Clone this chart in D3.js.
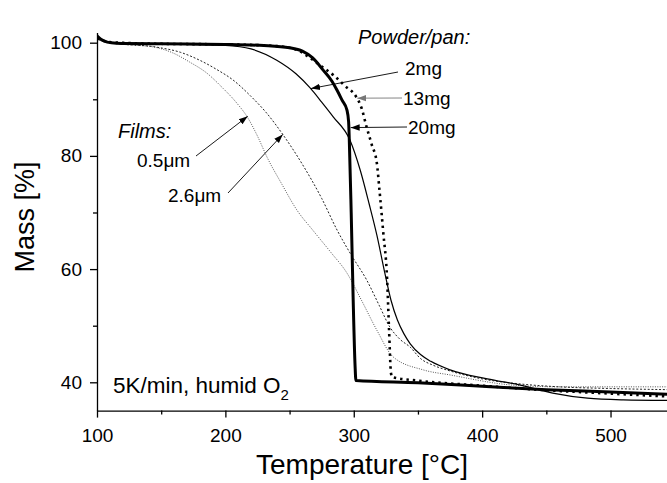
<!DOCTYPE html>
<html><head><meta charset="utf-8">
<script src="https://cdn.jsdelivr.net/npm/d3@7"></script>
<style>body{margin:0;background:#fff}svg{display:block;font-family:"Liberation Sans",Arial,sans-serif}</style>
</head><body><svg id="c" width="667" height="483"></svg>
<script>
// ---- data ----
const xTicks = [100, 200, 300, 400, 500];
const xMinorTicks = [150, 250, 350, 450];
const yTicks = [40, 60, 80, 100];
const yMinorTicks = [50, 70, 90];

const temp20mg = [100,103,108,115,150,200,230,250,260,268,276,283,287,291,294.7,296,296.5,298,299.5,301,301.7,350,400,450,500,544];
const mass20mg = [101.2,100.6,100.1,99.9,99.8,99.7,99.5,99.1,98.5,97.3,95.2,93.2,91.6,89.8,88.1,86,83,70,55,43,40.3,39.9,39.3,38.7,38.3,37.9];

const temp13mg = [100,110,150,200,240,255,266,275,284,293,302,306,310,314,318,320,323,326,327.5,329,330,350,400,450,500,544];
const mass13mg = [100.8,100.1,99.8,99.7,99.4,98.8,97.3,95.8,94.3,92.4,90.4,88.5,85.1,82,78.7,74,66.4,58.1,49.2,41.6,40.9,40.3,39.4,38.6,38.0,37.5];

const temp2mg = [100,110,150,200,220,240,255,266,275,284,297,305,312,318,324,329,334,339,344,352,360,375,404,430,455,482,510,544];
const mass2mg = [101,100.1,99.8,99.5,98.9,96.9,94.5,92,89.5,86.9,82.8,77.5,71.5,66,59.5,54.5,51,48.6,46.8,44.9,43.7,42.2,40.6,39.5,38.1,37.2,36.9,36.8];

const tempFilm05 = [100,110,128,145,159,172,185.7,197,209,217,225,232.4,244,255.8,268,282,294.7,306,318,330.6,354,375,424,460,500,544];
const massFilm05 = [100.5,100,99.6,99.2,98.2,96.6,94.6,92.2,89.3,86.9,83.5,79.8,75,70.4,66.9,63,59.3,54.5,49.2,44.5,42.2,41.3,39.5,39.2,39.2,39.2];

const tempFilm26 = [100,110,146.7,165,180,193,206,220,232,245,260,275,287,298,310,320,328,336,344,352,362,375,400,430,460,500,544];
const massFilm26 = [100.6,100,99.2,98.3,96.9,95.3,93.4,90.5,87.6,83.7,78.5,72.5,66.9,62.5,58.1,53.5,49.8,47.6,46.2,44.2,43,42,40.6,39.7,39.2,38.9,38.7];

// ---- chart ----
const svg = d3.select("#c");
const x = d3.scaleLinear().domain([100, 545]).range([97, 668.3]);
const y = d3.scaleLinear().domain([35, 101.8]).range([410.6, 32.5]);

const defs = svg.append("defs");
function marker(id, color){
  defs.append("marker").attr("id", id).attr("viewBox","0 0 10 10").attr("refX",10).attr("refY",5)
    .attr("markerWidth",9).attr("markerHeight",9).attr("markerUnits","userSpaceOnUse").attr("orient","auto")
    .append("path").attr("d","M0,1.5L10,5L0,8.5z").attr("fill",color);
}
marker("ah","#000"); marker("ahg","#777");

const line = d3.line().x(d=>x(d[0])).y(d=>y(d[1])).curve(d3.curveMonotoneX);
const zip = (a,b)=>a.map((t,i)=>[t,b[i]]);

const series = [
  {d:zip(tempFilm05,massFilm05), w:1, c:"#555", dash:"1,1.4"},
  {d:zip(tempFilm26,massFilm26), w:1, c:"#222", dash:"2,1.8"},
  {d:zip(temp2mg,mass2mg), w:1.2, c:"#000", dash:null},
  {d:zip(temp13mg,mass13mg), w:2.6, c:"#000", dash:"2.4,4"},
  {d:zip(temp20mg,mass20mg), w:3, c:"#000", dash:null},
];
const plot = svg.append("g");
plot.append("clipPath").attr("id","cp").append("rect").attr("x",97).attr("y",0).attr("width",600).attr("height",411);
series.forEach(s=>{
  plot.append("path").attr("d", line(s.d)).attr("fill","none").attr("stroke",s.c)
    .attr("stroke-width",s.w).attr("stroke-dasharray",s.dash).attr("stroke-linejoin","round")
    .attr("clip-path","url(#cp)");
});

// axes
const fs = "19px";
svg.append("g").attr("transform",`translate(0,${y(35)})`)
  .call(d3.axisBottom(x).tickValues(xTicks).tickSize(7).tickSizeOuter(0).tickPadding(11).tickFormat(d3.format("d")));
svg.append("g").attr("transform",`translate(0,${y(35)})`)
  .call(d3.axisBottom(x).tickValues(xMinorTicks).tickSize(4).tickFormat(""))
  .select(".domain").remove();
svg.append("g").attr("transform",`translate(${x(100)},0)`)
  .call(d3.axisLeft(y).tickValues(yTicks).tickSize(7).tickSizeOuter(0).tickPadding(8).tickFormat(d3.format("d")));
svg.append("g").attr("transform",`translate(${x(100)},0)`)
  .call(d3.axisLeft(y).tickValues(yMinorTicks).tickSize(4).tickFormat(""))
  .select(".domain").remove();
svg.selectAll(".tick text").attr("font-size",fs).attr("font-family","Liberation Sans, Arial, sans-serif").attr("fill","#000");
svg.selectAll(".domain, .tick line").attr("stroke","#000").attr("stroke-width",1.3);

svg.append("text").attr("x",362).attr("y",474).attr("text-anchor","middle").attr("font-size","28px").text("Temperature [°C]");
svg.append("text").attr("transform","translate(34,217) rotate(-90)").attr("text-anchor","middle").attr("font-size","27px").text("Mass [%]");

// annotations
const ann = svg.append("g").attr("font-size","19px").attr("fill","#000");
ann.append("text").attr("x",358).attr("y",44).attr("font-style","italic").attr("font-size","20px").text("Powder/pan:");
ann.append("text").attr("x",405).attr("y",75).text("2mg");
ann.append("text").attr("x",403).attr("y",105).text("13mg");
ann.append("text").attr("x",408).attr("y",134).text("20mg");
ann.append("text").attr("x",118).attr("y",138).attr("font-style","italic").attr("font-size","20px").text("Films:");
ann.append("text").attr("x",137).attr("y",167).text("0.5μm");
ann.append("text").attr("x",168).attr("y",202).text("2.6μm");
const t5 = ann.append("text").attr("x",113).attr("y",393).attr("font-size","22.5px").text("5K/min, humid O");
t5.append("tspan").attr("font-size","15px").attr("dy",7).text("2");

function arrow(x1,y1,x2,y2,c,m){
  svg.append("line").attr("x1",x1).attr("y1",y1).attr("x2",x2).attr("y2",y2)
    .attr("stroke",c).attr("stroke-width",0.9).attr("marker-end",`url(#${m})`);
}
// arrows point at the curves
arrow(398,72, x(266.7), y(91.9),"#000","ah");
arrow(402,98, x(302.8), y(90.2),"#777","ahg");
arrow(407,127, x(297.6), y(85),"#000","ah");
arrow(196,156, x(217.4), y(87.0),"#000","ah");
arrow(228,193, x(244.7), y(83.8),"#000","ah");
</script></body></html>
